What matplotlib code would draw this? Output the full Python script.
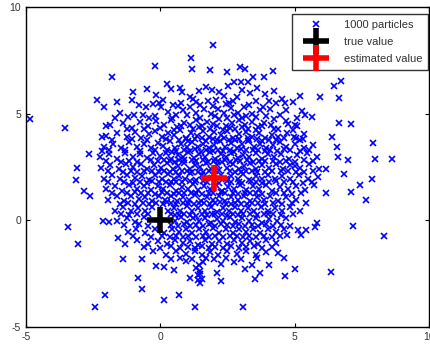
import numpy as np
import matplotlib.pyplot as plt

# ========= DATA (estimated) =========

# particles in the sparse outer ring
outer_particles = [
    (-4.83, 4.75), (-3.56, 4.31), (-3.10, 2.45), (-3.15, 1.90), (-2.64, 3.10),
    (-3.43, -0.31), (-3.07, -1.11), (-2.42, -4.08), (-2.07, -3.49), (-1.79, 6.73),
    (-2.35, 5.65), (-2.10, 5.33), (-2.18, 3.93), (-2.02, 4.44), (-2.17, 3.24),
    (-2.85, 1.37), (-2.61, 1.14), (-2.13, -0.03), (-1.90, -0.08), (-1.56, -0.81),
    (-1.40, -1.79), (-1.30, -1.09), (-0.82, -2.69), (-0.68, -3.22), (-0.66, -1.79),
    (-0.21, 7.23), (-0.50, 6.17), (-1.03, 6.00), (-0.17, -2.15), (0.14, -2.18),
    (0.14, -3.74), (0.69, -3.49), (0.53, -2.31), (1.28, -4.07), (3.07, -4.08),
    (2.28, -2.85), (1.96, 8.22), (1.15, 7.62), (1.19, 7.07), (1.85, 7.04),
    (2.50, 6.96), (2.97, 7.20), (3.15, 7.10), (3.46, 6.74), (3.87, 6.73),
    (4.20, 7.01), (2.73, 6.48), (2.99, 6.48), (3.25, 6.48), (4.24, 6.07),
    (6.46, 6.29), (6.72, 6.51), (6.67, 5.73), (5.94, 5.79), (5.66, 4.83),
    (6.66, 4.58), (7.09, 4.53), (6.41, 3.89), (7.92, 3.61), (8.00, 2.90),
    (8.62, 2.90), (7.87, 1.92), (7.42, 1.68), (7.11, 1.32), (7.67, 0.97),
    (7.16, -0.25), (8.33, -0.72), (6.86, 2.18), (6.99, 2.85), (6.61, 2.98),
    (6.58, 3.43), (6.16, 2.43), (6.18, 1.28), (5.85, -0.12), (6.34, -2.41),
    (5.03, -2.27), (4.65, -2.62), (4.61, -1.74), (3.71, -2.46), (3.52, -2.74),
    (3.17, -2.29), (4.05, -2.07), (1.40, -2.80), (1.10, -2.69), (5.25, -0.70),
    (5.42, -0.47), (5.12, -0.47), (5.76, -0.31), (4.73, -0.70), (5.43, 0.83),
    (5.72, 1.67), (5.30, 3.82), (4.98, 3.93), (5.01, 4.49), (5.29, 5.14),
    (4.65, 5.48), (4.70, 5.19), (5.01, 2.55),
]

# particles in the dense core (first pass)
core_particles = [
    (0.25, 6.39), (0.72, 6.22), (1.45, 6.05), (1.72, 6.25), (2.19, 6.00), (2.52, 6.31), (3.06, 6.09), (3.62, 6.18),
    (-0.16, 5.86), (0.40, 6.14), (0.80, 6.02), (1.10, 5.78), (1.92, 6.12), (2.36, 5.85), (2.85, 5.77), (3.35, 5.95),
    (3.90, 5.90), (4.55, 5.70), (-1.05, 5.62), (5.20, 5.85),
    (-1.60, 5.55), (-0.26, 5.47), (0.10, 5.62), (0.46, 5.42), (0.78, 5.52), (1.21, 5.69), (1.49, 5.43), (1.77, 5.60),
    (2.07, 5.63), (2.44, 5.46), (2.70, 5.61), (3.12, 5.31), (3.55, 5.58), (3.84, 5.31), (4.30, 5.48), (4.95, 5.55),
    (-1.50, 5.02), (-1.19, 4.84), (-0.97, 4.93), (-0.63, 4.92), (-0.41, 4.82), (-0.53, 5.29), (0.02, 5.30), (0.30, 5.10),
    (0.58, 4.95), (0.85, 5.18), (1.12, 5.31), (1.35, 5.05), (1.63, 5.20), (1.88, 4.98), (2.15, 5.22), (2.38, 5.05),
    (2.62, 5.25), (2.90, 5.02), (3.18, 4.91), (3.43, 4.98), (3.70, 5.15), (3.93, 4.91), (4.24, 4.76), (4.67, 4.68),
    (4.10, 5.20), (5.40, 4.95),
    (-1.85, 4.45), (-1.40, 4.55), (-1.05, 4.35), (-0.75, 4.60), (-0.45, 4.40), (-0.15, 4.65), (0.15, 4.48), (0.40, 4.72),
    (0.62, 4.38), (0.88, 4.58), (1.10, 4.45), (1.32, 4.70), (1.55, 4.42), (1.75, 4.62), (1.98, 4.50), (2.20, 4.75),
    (2.45, 4.40), (2.68, 4.58), (2.92, 4.70), (3.15, 4.45), (3.40, 4.62), (3.65, 4.38), (3.88, 4.55), (4.12, 4.48),
    (4.40, 4.30), (4.75, 4.52), (5.10, 4.40),
    (-2.00, 3.95), (-1.60, 4.10), (-1.25, 3.90), (-0.95, 4.15), (-0.70, 3.85), (-0.42, 4.05), (-0.18, 4.20), (0.05, 3.92),
    (0.28, 4.10), (0.50, 3.98), (0.72, 4.22), (0.95, 3.88), (1.15, 4.08), (1.38, 3.95), (1.58, 4.18), (1.80, 3.90),
    (2.02, 4.12), (2.25, 3.98), (2.48, 4.20), (2.70, 3.86), (2.95, 4.05), (3.18, 4.15), (3.42, 3.92), (3.66, 4.10),
    (3.90, 3.85), (4.15, 4.02), (4.40, 3.90), (4.72, 4.10), (5.05, 3.88), (5.35, 4.05),
    (-2.10, 3.45), (-1.75, 3.60), (-1.45, 3.40), (-1.15, 3.65), (-0.88, 3.45), (-0.60, 3.58), (-0.35, 3.38), (-0.10, 3.62),
    (0.12, 3.48), (0.35, 3.70), (0.55, 3.40), (0.78, 3.58), (0.98, 3.45), (1.20, 3.68), (1.40, 3.42), (1.60, 3.60),
    (1.82, 3.38), (2.02, 3.55), (2.22, 3.70), (2.42, 3.45), (2.62, 3.62), (2.85, 3.40), (3.05, 3.58), (3.28, 3.70),
    (3.50, 3.44), (3.72, 3.60), (3.95, 3.38), (4.20, 3.55), (4.45, 3.68), (4.70, 3.42), (5.00, 3.60), (5.35, 3.40),
    (5.70, 3.55),
    (-2.25, 2.95), (-1.90, 3.10), (-1.60, 2.90), (-1.30, 3.15), (-1.02, 2.98), (-0.75, 3.12), (-0.50, 2.92), (-0.25, 3.18),
    (0.00, 3.00), (0.22, 3.15), (0.42, 2.88), (0.65, 3.08), (0.85, 2.95), (1.05, 3.20), (1.25, 2.92), (1.45, 3.10),
    (1.65, 2.98), (1.85, 3.22), (2.05, 2.90), (2.25, 3.12), (2.45, 2.96), (2.65, 3.18), (2.88, 2.92), (3.10, 3.08),
    (3.32, 2.95), (3.55, 3.15), (3.78, 2.90), (4.00, 3.10), (4.25, 2.98), (4.50, 3.12), (4.80, 2.90), (5.10, 3.05),
    (5.45, 3.15), (5.85, 2.95),
    (-2.20, 2.45), (-1.85, 2.60), (-1.55, 2.42), (-1.28, 2.65), (-1.00, 2.50), (-0.72, 2.62), (-0.48, 2.40), (-0.22, 2.58),
    (0.02, 2.45), (0.25, 2.68), (0.48, 2.40), (0.68, 2.55), (0.90, 2.70), (1.10, 2.42), (1.30, 2.60), (1.50, 2.48),
    (1.70, 2.68), (1.90, 2.40), (2.10, 2.58), (2.30, 2.72), (2.50, 2.45), (2.70, 2.62), (2.92, 2.40), (3.12, 2.55),
    (3.35, 2.68), (3.58, 2.42), (3.80, 2.60), (4.05, 2.45), (4.30, 2.65), (4.58, 2.42), (4.85, 2.58), (5.20, 2.45),
    (5.55, 2.62), (5.90, 2.40),
    (-2.10, 1.95), (-1.80, 2.12), (-1.50, 1.92), (-1.22, 2.15), (-0.95, 1.98), (-0.68, 2.10), (-0.42, 1.90), (-0.18, 2.12),
    (0.05, 1.96), (0.28, 2.18), (0.50, 1.92), (0.70, 2.08), (0.92, 1.95), (1.12, 2.20), (1.32, 1.90), (1.55, 2.12),
    (1.75, 1.98), (2.25, 2.15), (2.45, 1.92), (2.65, 2.10), (2.88, 1.96), (3.10, 2.18), (3.32, 1.90), (3.55, 2.08),
    (3.78, 1.94), (4.02, 2.15), (4.28, 1.92), (4.55, 2.10), (4.85, 1.95), (5.15, 2.12), (5.50, 1.92), (5.88, 2.05),
    (-2.00, 1.45), (-1.70, 1.62), (-1.42, 1.40), (-1.15, 1.65), (-0.88, 1.48), (-0.60, 1.60), (-0.35, 1.42), (-0.10, 1.62),
    (0.12, 1.45), (0.35, 1.68), (0.58, 1.40), (0.80, 1.58), (1.02, 1.45), (1.22, 1.70), (1.42, 1.42), (1.62, 1.60),
    (1.85, 1.48), (2.08, 1.65), (2.30, 1.40), (2.52, 1.58), (2.75, 1.45), (2.98, 1.68), (3.20, 1.42), (3.45, 1.60),
    (3.68, 1.45), (3.92, 1.65), (4.18, 1.40), (4.45, 1.58), (4.75, 1.45), (5.05, 1.62), (5.40, 1.42),
    (-1.95, 0.95), (-1.62, 1.12), (-1.35, 0.92), (-1.08, 1.15), (-0.80, 0.98), (-0.55, 1.10), (-0.30, 0.92), (-0.05, 1.15),
    (0.18, 0.96), (0.40, 1.12), (0.62, 0.90), (0.85, 1.08), (1.08, 0.95), (1.30, 1.18), (1.52, 0.92), (1.75, 1.10),
    (1.98, 0.96), (2.20, 1.15), (2.42, 0.90), (2.65, 1.08), (2.88, 0.95), (3.12, 1.15), (3.35, 0.92), (3.60, 1.10),
    (3.85, 0.95), (4.10, 1.12), (4.40, 0.92), (4.70, 1.08), (5.05, 0.95),
    (-1.70, 0.45), (-1.40, 0.62), (-1.10, 0.42), (-0.82, 0.60), (-0.55, 0.45), (-0.30, 0.65), (0.30, 0.42), (0.52, 0.60),
    (0.75, 0.45), (0.98, 0.68), (1.20, 0.42), (1.42, 0.58), (1.65, 0.45), (1.88, 0.65), (2.10, 0.40), (2.32, 0.58),
    (2.55, 0.45), (2.78, 0.62), (3.00, 0.42), (3.25, 0.60), (3.50, 0.45), (3.75, 0.65), (4.00, 0.42), (4.28, 0.58),
    (4.55, 0.45), (4.85, 0.62), (5.20, 0.42),
    (-1.60, -0.05), (-1.25, 0.12), (-0.95, -0.08), (-0.62, 0.15), (0.55, -0.02), (0.78, 0.15), (1.00, -0.08), (1.22, 0.10),
    (1.45, -0.05), (1.68, 0.12), (1.90, -0.10), (2.12, 0.08), (2.35, -0.05), (2.58, 0.15), (2.80, -0.08), (3.05, 0.10),
    (3.30, -0.05), (3.55, 0.12), (3.80, -0.10), (4.05, 0.08), (4.35, -0.05), (4.70, 0.10),
    (-1.20, -0.55), (-0.90, -0.38), (-0.55, -0.60), (-0.20, -0.40), (0.15, -0.58), (0.45, -0.42), (0.70, -0.55), (0.95, -0.38),
    (1.20, -0.60), (1.45, -0.40), (1.70, -0.55), (1.95, -0.35), (2.20, -0.58), (2.45, -0.42), (2.70, -0.60), (2.95, -0.40),
    (3.20, -0.55), (3.45, -0.38), (3.72, -0.60), (4.00, -0.42), (4.30, -0.55), (4.60, -0.40),
    (-0.85, -0.92), (-0.45, -1.10), (-0.10, -0.95), (0.25, -1.12), (0.55, -0.90), (0.85, -1.08), (1.12, -0.95), (1.40, -1.15),
    (1.65, -0.92), (1.92, -1.10), (2.20, -0.95), (2.48, -1.12), (2.75, -0.90), (3.05, -1.08), (3.35, -0.95), (3.65, -1.12),
    (3.95, -0.92), (4.30, -1.05),
    (-0.25, -1.45), (0.20, -1.60), (0.60, -1.42), (0.95, -1.58), (1.30, -1.45), (1.55, -1.62), (1.85, -1.48), (2.15, -1.60),
    (2.50, -1.42), (2.85, -1.58), (3.20, -1.45), (3.55, -1.60), (3.95, -1.48), (4.40, -1.55),
    (0.95, -1.92), (1.45, -2.10), (1.60, -1.95), (2.25, -2.05), (2.75, -1.95), (3.40, -2.08),
    (1.48, -2.50), (1.55, -2.75), (1.50, -2.95), (2.10, -2.45), (1.35, -2.25), (1.42, -2.55), (1.48, -2.35),
    (0.60, 3.25), (0.95, 3.82), (1.28, 3.35), (1.55, 3.85), (1.72, 3.28), (1.95, 3.80), (2.15, 3.32), (2.38, 3.88),
    (2.58, 3.30), (2.80, 3.78), (3.02, 3.35), (3.25, 3.85), (3.45, 3.28), (0.70, 2.82), (0.98, 2.30), (1.20, 2.85),
    (1.40, 2.28), (1.60, 2.82), (1.80, 2.32), (2.00, 2.80), (2.20, 2.35), (2.40, 2.85), (2.60, 2.30), (2.82, 2.82),
    (3.02, 2.28), (3.22, 2.85), (3.42, 2.32), (0.60, 1.82), (0.88, 1.30), (1.10, 1.85), (1.35, 1.30), (1.58, 1.85),
    (1.80, 1.28), (2.02, 1.82), (2.25, 1.32), (2.48, 1.85), (2.70, 1.28), (2.92, 1.82), (3.15, 1.30), (3.38, 1.85),
    (0.40, 0.82), (0.70, 0.25), (1.05, 0.80), (1.35, 0.22), (1.62, 0.82), (1.92, 0.28), (2.22, 0.85), (2.50, 0.22),
    (2.80, 0.80), (3.10, 0.28), (3.40, 0.82), (-0.35, 2.85), (-0.60, 2.30), (-0.30, 1.85), (-0.70, 1.30), (4.20, 2.80),
    (4.50, 2.30), (4.30, 1.85), (4.60, 3.35), (3.90, 3.25), (4.00, 0.28),
]

# particles in the dense core (second pass, in between the first)
core_particles_2 = [
    (-0.80, 5.40), (-0.05, 5.50), (0.65, 5.35), (1.35, 5.55), (1.95, 5.38), (2.55, 5.52), (3.30, 5.42), (4.05, 5.58),
    (-1.70, 4.80), (-0.20, 4.90), (0.45, 4.78), (1.00, 4.92), (1.48, 4.80), (2.05, 4.88), (2.50, 4.82), (2.75, 4.95),
    (3.05, 4.78), (3.55, 4.85), (4.45, 4.95), (5.10, 4.80),
    (-1.25, 4.30), (-0.60, 4.28), (0.00, 4.35), (0.50, 4.25), (0.78, 4.40), (1.22, 4.28), (1.45, 4.36), (1.85, 4.30),
    (2.10, 4.40), (2.35, 4.25), (2.58, 4.35), (2.80, 4.28), (3.05, 4.38), (3.28, 4.30), (3.55, 4.25), (3.78, 4.40),
    (4.25, 4.30), (4.95, 4.22),
    (-1.80, 3.75), (-1.05, 3.80), (-0.50, 3.78), (0.20, 3.80), (0.70, 3.75), (1.05, 3.70), (1.30, 3.80), (1.70, 3.72),
    (2.10, 3.78), (2.55, 3.75), (2.95, 3.82), (3.30, 3.75), (3.60, 3.82), (3.80, 3.72), (4.05, 3.78), (4.30, 3.75),
    (4.60, 3.85), (5.20, 3.75),
    (-1.90, 3.30), (-1.30, 3.28), (-0.75, 3.25), (-0.20, 3.30), (0.25, 3.30), (0.45, 3.22), (0.88, 3.28), (1.10, 3.25),
    (1.52, 3.22), (1.95, 3.25), (2.32, 3.25), (2.75, 3.22), (3.18, 3.28), (3.65, 3.30), (4.10, 3.30), (4.35, 3.25),
    (4.85, 3.28), (5.20, 3.25), (5.55, 3.32),
    (-2.00, 2.78), (-1.45, 2.75), (-1.15, 2.80), (-0.85, 2.75), (-0.10, 2.80), (0.15, 2.85), (0.35, 2.78), (0.55, 2.75),
    (0.90, 2.82), (1.35, 2.78), (1.78, 2.75), (2.15, 2.78), (2.58, 2.75), (2.98, 2.78), (3.45, 2.75), (3.68, 2.80),
    (3.90, 2.78), (4.45, 2.75), (4.70, 2.80), (5.00, 2.75), (5.35, 2.82), (5.70, 2.78),
    (-1.95, 2.30), (-1.40, 2.28), (-1.10, 2.32), (-0.85, 2.25), (-0.30, 2.30), (-0.05, 2.25), (0.15, 2.32), (0.38, 2.28),
    (0.60, 2.25), (0.80, 2.32), (1.20, 2.28), (1.60, 2.25), (2.05, 2.30), (2.80, 2.25), (3.20, 2.32), (3.62, 2.28),
    (3.90, 2.25), (4.18, 2.32), (4.75, 2.30), (5.05, 2.28), (5.35, 2.25), (5.70, 2.30),
    (-1.95, 1.78), (-1.35, 1.80), (-1.00, 1.75), (-0.75, 1.82), (-0.50, 1.75), (-0.05, 1.80), (0.20, 1.78), (0.40, 1.82),
    (0.80, 1.80), (1.30, 1.78), (1.75, 1.82), (2.20, 1.75), (2.65, 1.78), (3.05, 1.75), (3.55, 1.80), (3.80, 1.75),
    (4.05, 1.82), (4.60, 1.78), (4.95, 1.80), (5.30, 1.75), (5.65, 1.82),
    (-1.80, 1.30), (-1.25, 1.28), (-0.95, 1.32), (-0.45, 1.28), (-0.20, 1.25), (0.05, 1.32), (0.25, 1.28), (0.50, 1.25),
    (0.70, 1.30), (1.15, 1.28), (1.55, 1.25), (1.95, 1.30), (2.40, 1.28), (2.90, 1.25), (3.35, 1.30), (3.58, 1.28),
    (3.80, 1.25), (4.30, 1.30), (4.60, 1.28), (4.90, 1.25), (5.25, 1.30),
    (-1.50, 0.78), (-1.20, 0.80), (-0.95, 0.75), (-0.65, 0.82), (-0.40, 0.75), (-0.15, 0.80), (0.10, 0.78), (0.25, 0.85),
    (0.60, 0.75), (0.85, 0.82), (1.25, 0.75), (1.45, 0.80), (1.85, 0.75), (2.05, 0.82), (2.45, 0.78), (2.62, 0.75),
    (3.00, 0.78), (3.22, 0.75), (3.65, 0.80), (3.90, 0.78), (4.20, 0.80), (4.55, 0.78), (4.90, 0.82),
    (-1.45, 0.30), (-1.15, 0.25), (-0.85, 0.32), (-0.45, 0.28), (0.40, 0.30), (0.55, 0.25), (0.90, 0.30), (1.10, 0.25),
    (1.55, 0.30), (1.75, 0.25), (2.05, 0.32), (2.30, 0.28), (2.70, 0.30), (2.90, 0.25), (3.35, 0.30), (3.60, 0.25),
    (3.85, 0.32), (4.20, 0.28), (4.50, 0.25), (4.95, 0.30),
    (-1.35, -0.22), (-0.80, -0.18), (-0.45, -0.25), (0.40, -0.20), (0.65, -0.25), (0.88, -0.18), (1.10, -0.25), (1.35, -0.20),
    (1.58, -0.28), (1.82, -0.18), (2.05, -0.25), (2.28, -0.18), (2.50, -0.22), (2.72, -0.28), (2.92, -0.18), (3.15, -0.25),
    (3.42, -0.20), (3.65, -0.25), (3.95, -0.18), (4.20, -0.25), (4.50, -0.20), (4.85, -0.25),
    (-1.00, -0.75), (-0.35, -0.78), (0.05, -0.72), (0.35, -0.78), (0.60, -0.72), (0.85, -0.80), (1.05, -0.72), (1.32, -0.78),
    (1.58, -0.75), (1.80, -0.80), (2.05, -0.72), (2.35, -0.78), (2.60, -0.75), (2.85, -0.72), (3.10, -0.80), (3.30, -0.72),
    (3.58, -0.78), (3.85, -0.75), (4.15, -0.78), (4.45, -0.72),
    (-0.60, -1.25), (0.00, -1.30), (0.40, -1.22), (0.75, -1.30), (1.02, -1.25), (1.28, -1.30), (1.55, -1.22), (1.80, -1.30),
    (2.05, -1.25), (2.35, -1.30), (2.62, -1.22), (2.92, -1.30), (3.20, -1.25), (3.48, -1.22), (3.80, -1.30), (4.15, -1.25),
    (0.40, -1.80), (0.75, -1.78), (1.20, -1.82), (1.70, -1.75), (2.00, -1.82), (2.45, -1.78), (3.00, -1.80), (3.60, -1.78),
]

true_value = (0.0, 0.0)
estimated_value = (2.0, 2.0)

legend_labels = ['1000 particles', 'true value', 'estimated value']

# ========= PLOT =========

plt.rcParams['font.family'] = ['Liberation Sans', 'DejaVu Sans']
plt.rcParams['axes.unicode_minus'] = False

fig = plt.figure(figsize=(4.31, 3.48), dpi=100)
ax = fig.add_axes([0.060, 0.060, 0.935, 0.920])

particles = outer_particles + core_particles + core_particles_2
px = [p[0] for p in particles]
py = [p[1] for p in particles]

ax.plot(px, py, linestyle='none', marker='x', color='#0000ff',
        markersize=4, markeredgewidth=1.2, label=legend_labels[0])
ax.plot([true_value[0]], [true_value[1]], linestyle='none', marker='+',
        color='black', markersize=19, markeredgewidth=4, label=legend_labels[1])
ax.plot([estimated_value[0]], [estimated_value[1]], linestyle='none', marker='+',
        color='red', markersize=19, markeredgewidth=4, label=legend_labels[2])

ax.set_xlim(-5, 10)
ax.set_ylim(-5, 10)
ax.set_xticks([-5, 0, 5, 10])
ax.set_yticks([-5, 0, 5, 10])
ax.tick_params(direction='in', top=True, right=True, labelsize=7.5,
               length=3, width=0.8, colors='black', labelcolor='#333333')

for s in ax.spines.values():
    s.set_linewidth(1.0)

leg = ax.legend(loc='upper right', fontsize=8, frameon=True, fancybox=False,
                borderpad=0.5, labelspacing=0.65, handlelength=3.4,
                handletextpad=0.8, borderaxespad=0.0,
                bbox_to_anchor=(0.9975, 0.978))
leg.get_frame().set_edgecolor('black')
leg.get_frame().set_linewidth(1.0)
for t in leg.get_texts():
    t.set_color('#333333')

fig.savefig('out.png', dpi=100)
